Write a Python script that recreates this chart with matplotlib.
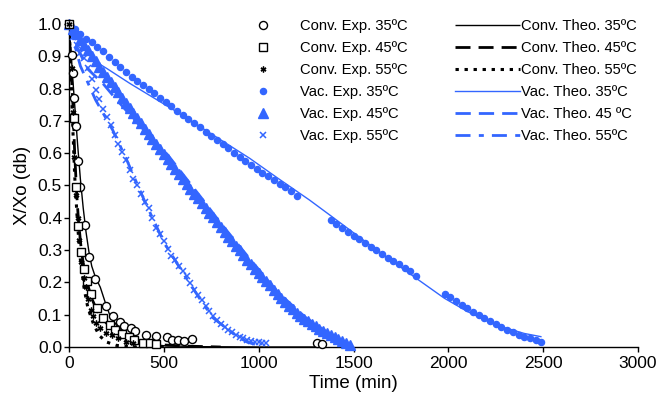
import matplotlib
matplotlib.use("Agg")
import matplotlib.pyplot as plt

plt.rcParams['font.family'] = ['Liberation Sans', 'DejaVu Sans']
plt.rcParams['lines.scale_dashes'] = False

BLUE = '#3366ff'

# ---------------- data ----------------
# Convective drying, experimental
conv35_t = [0, 15, 20, 25, 35, 50, 60, 85, 105, 135, 195, 230, 270, 290, 325, 350, 405, 460, 515, 545, 575, 605, 650, 1310, 1335]
conv35_x = [1.0, 0.904, 0.847, 0.77, 0.684, 0.577, 0.496, 0.378, 0.278, 0.21, 0.127, 0.096, 0.078, 0.066, 0.058, 0.05, 0.037, 0.035, 0.03, 0.022, 0.023, 0.02, 0.024, 0.013, 0.009]

conv45_t = [0, 25, 35, 50, 65, 80, 95, 115, 145, 180, 215, 245, 280, 315, 345, 390, 425, 460]
conv45_x = [1.0, 0.708, 0.496, 0.375, 0.293, 0.24, 0.204, 0.163, 0.122, 0.089, 0.068, 0.053, 0.04, 0.03, 0.022, 0.013, 0.011, 0.008]

conv55_t = [0, 15, 20, 25, 35, 45, 55, 65, 80, 90, 100, 115, 125, 140, 165, 195, 225, 260, 300, 340]
conv55_x = [1.0, 0.863, 0.729, 0.589, 0.47, 0.40, 0.33, 0.264, 0.213, 0.185, 0.148, 0.115, 0.095, 0.073, 0.058, 0.044, 0.037, 0.027, 0.017, 0.011]

# Convective drying, theoretical
conv35th_t = [0, 10, 20, 30, 45, 60, 75, 90, 105, 120, 140, 165, 190, 216, 250, 300, 340, 400, 500, 700, 1000, 1350]
conv35th_x = [1.0, 0.92, 0.83, 0.75, 0.63, 0.52, 0.43, 0.355, 0.295, 0.25, 0.215, 0.185, 0.14, 0.097, 0.068, 0.04, 0.022, 0.01, 0.004, 0.001, 0.0, 0.0]

conv45th_t = [0, 10, 20, 30, 40, 50, 65, 80, 100, 120, 150, 180, 220, 270, 330, 400, 480, 600, 800]
conv45th_x = [1.0, 0.87, 0.76, 0.6, 0.48, 0.39, 0.3, 0.24, 0.19, 0.15, 0.11, 0.085, 0.06, 0.04, 0.025, 0.013, 0.007, 0.003, 0.0]

conv55th_t = [0, 10, 20, 30, 45, 60, 80, 100, 130, 160, 200, 250, 350, 500]
conv55th_x = [1.0, 0.85, 0.68, 0.53, 0.38, 0.27, 0.18, 0.12, 0.07, 0.035, 0.015, 0.005, 0.0, 0.0]

# Vacuum drying, experimental
vac35_t = [0, 30, 60, 90, 120, 150, 180, 210, 240, 270, 300, 330, 360, 390, 420, 450, 480, 510, 540, 570,
           600, 630, 660, 690, 720, 750, 780, 810, 840, 870, 900, 930, 960, 990, 1020, 1050, 1080, 1110, 1140, 1170, 1200,
           1380, 1410, 1440, 1470, 1500, 1530, 1560, 1590, 1620, 1650, 1680, 1710, 1740, 1770, 1800, 1830,
           1980, 2010, 2040, 2070, 2100, 2130, 2160, 2190, 2220, 2250, 2280, 2310, 2340, 2370, 2400, 2430, 2460, 2490]
vac35_x = [1.0, 0.983, 0.968, 0.955, 0.943, 0.928, 0.915, 0.898, 0.883, 0.868, 0.852, 0.837, 0.824, 0.811, 0.798, 0.785, 0.772, 0.759, 0.745, 0.732,
           0.719, 0.706, 0.693, 0.68, 0.667, 0.654, 0.641, 0.628, 0.615, 0.602, 0.589, 0.576, 0.563, 0.55, 0.54, 0.53, 0.518, 0.506, 0.494, 0.482, 0.468,
           0.393, 0.381, 0.367, 0.357, 0.344, 0.334, 0.321, 0.31, 0.30, 0.288, 0.277, 0.267, 0.257, 0.246, 0.236, 0.221,
           0.164, 0.155, 0.142, 0.131, 0.12, 0.107, 0.098, 0.089, 0.079, 0.071, 0.063, 0.054, 0.045, 0.038, 0.032, 0.027, 0.022, 0.017]

vac45_t = [0, 20, 40, 60, 80, 100, 120, 140, 160, 180, 200, 220, 240, 260, 280, 300, 320, 340, 360, 380,
           400, 420, 440, 460, 480, 500, 520, 540, 560, 580, 600, 620, 640, 660, 680, 700, 720, 740, 760, 780,
           800, 820, 840, 860, 880, 900, 920, 940, 960, 980, 1000, 1020, 1040, 1060, 1080, 1100, 1120, 1140, 1160, 1180,
           1200, 1220, 1240, 1260, 1280, 1300, 1320, 1340, 1360, 1380, 1400, 1420, 1440, 1460, 1480]
vac45_x = [1.0, 0.985, 0.968, 0.952, 0.935, 0.918, 0.901, 0.884, 0.868, 0.852, 0.836, 0.82, 0.804, 0.788, 0.772, 0.756, 0.74, 0.724, 0.708, 0.692,
           0.676, 0.66, 0.644, 0.628, 0.613, 0.597, 0.582, 0.566, 0.551, 0.535, 0.519, 0.504, 0.489, 0.474, 0.46, 0.446, 0.431, 0.416, 0.401, 0.386,
           0.37, 0.355, 0.341, 0.327, 0.313, 0.299, 0.284, 0.27, 0.256, 0.243, 0.23, 0.217, 0.204, 0.191, 0.178, 0.165, 0.152, 0.14, 0.128, 0.117,
           0.106, 0.096, 0.087, 0.079, 0.071, 0.064, 0.057, 0.05, 0.043, 0.036, 0.03, 0.024, 0.018, 0.012, 0.006]

vac55_t = [0, 20, 40, 60, 80, 100, 120, 140, 160, 180, 200, 220, 240, 260, 280, 300, 320, 340, 360, 380,
           400, 420, 440, 460, 480, 500, 520, 540, 560, 580, 600, 620, 640, 660, 680, 700, 720, 740, 760, 780,
           800, 820, 840, 860, 880, 900, 920, 940, 960, 980, 1000, 1020, 1040]
vac55_x = [1.0, 0.96, 0.935, 0.91, 0.895, 0.865, 0.83, 0.795, 0.767, 0.737, 0.712, 0.688, 0.655, 0.628, 0.605, 0.58, 0.548, 0.52, 0.5, 0.475,
           0.45, 0.43, 0.4, 0.368, 0.35, 0.328, 0.302, 0.283, 0.268, 0.25, 0.236, 0.22, 0.198, 0.178, 0.162, 0.145, 0.128, 0.112, 0.095, 0.083,
           0.072, 0.061, 0.053, 0.045, 0.038, 0.032, 0.027, 0.022, 0.019, 0.016, 0.014, 0.012, 0.011]

# Vacuum drying, theoretical
vac35th_t = [0, 75, 150, 200, 321, 549, 750, 953, 1100, 1268, 1374, 1600, 1830, 1979, 2100, 2250, 2400, 2488]
vac35th_x = [1.0, 0.94, 0.88, 0.862, 0.816, 0.735, 0.66, 0.584, 0.523, 0.455, 0.409, 0.31, 0.213, 0.151, 0.11, 0.068, 0.042, 0.032]

vac45th_t = [0, 40, 100, 180, 230, 350, 520, 700, 800, 950, 1100, 1250, 1400, 1480]
vac45th_x = [1.0, 0.93, 0.86, 0.815, 0.78, 0.70, 0.595, 0.46, 0.383, 0.275, 0.17, 0.09, 0.03, 0.005]

vac55th_t = [0, 60, 140, 230, 300, 400, 500, 600, 700, 760, 880, 940, 1000]
vac55th_x = [1.0, 0.87, 0.765, 0.672, 0.585, 0.45, 0.325, 0.23, 0.14, 0.09, 0.035, 0.015, 0.005]

exp_labels = ['Conv. Exp. 35ºC', 'Conv. Exp. 45ºC', 'Conv. Exp. 55ºC',
              'Vac. Exp. 35ºC', 'Vac. Exp. 45ºC', 'Vac. Exp. 55ºC']
theo_labels = ['Conv. Theo. 35ºC', 'Conv. Theo. 45ºC', 'Conv. Theo. 55ºC',
               'Vac. Theo. 35ºC', 'Vac. Theo. 45 ºC', 'Vac. Theo. 55ºC']

x_ticks = [0, 500, 1000, 1500, 2000, 2500, 3000]
y_ticks = [0.0, 0.1, 0.2, 0.3, 0.4, 0.5, 0.6, 0.7, 0.8, 0.9, 1.0]

# ---------------- figure ----------------
fig = plt.figure(figsize=(6.62, 3.98), dpi=100)
ax = fig.add_axes([69/662, 1-347/398, (638-69)/662, (347-24)/398])

# theory lines
th = []
th += ax.plot(conv35th_t, conv35th_x, color='black', lw=1.0, solid_capstyle='butt')
th += ax.plot(conv45th_t, conv45th_x, color='black', lw=2.0, dashes=(10.8, 5.8), dash_capstyle='butt')
th += ax.plot(conv55th_t, conv55th_x, color='black', lw=2.2, dashes=(2.4, 4.1), dash_capstyle='butt')
th += ax.plot(vac35th_t, vac35th_x, color=BLUE, lw=1.0)
th += ax.plot(vac45th_t, vac45th_x, color=BLUE, lw=2.0, dashes=(11.0, 5.8), dash_capstyle='butt')
th += ax.plot(vac55th_t, vac55th_x, color=BLUE, lw=2.0, dashes=(10.8, 6.0, 3.6, 5.8), dash_capstyle='butt')

# experimental markers
ex = []
ex += ax.plot(conv35_t, conv35_x, ls='none', marker='o', ms=5.8, mfc='white', mec='black', mew=1.0, zorder=5, clip_on=False)
ex += ax.plot(conv45_t, conv45_x, ls='none', marker='s', ms=5.3, mfc='white', mec='black', mew=1.0, zorder=5, clip_on=False)
ex += ax.plot(conv55_t, conv55_x, ls='none', marker=(6, 2, 0), ms=4.2, color='black', mew=1.0, zorder=5, clip_on=False)
ex += ax.plot(vac35_t, vac35_x, ls='none', marker='o', ms=4.4, color=BLUE, mec=BLUE, zorder=4, clip_on=False)
ex += ax.plot(vac45_t, vac45_x, ls='none', marker='^', ms=7.2, color=BLUE, mec=BLUE, zorder=4, clip_on=False)
ex += ax.plot(vac55_t, vac55_x, ls='none', marker='x', ms=4.0, color=BLUE, mew=1.1, zorder=4, clip_on=False)

ax.set_xlim(0, 3000)
ax.set_ylim(0, 1.0)
ax.set_xticks(x_ticks)
ax.set_yticks(y_ticks)
ax.set_yticklabels([f'{v:.1f}' for v in y_ticks])
for s in ['top', 'right']:
    ax.spines[s].set_visible(False)
for s in ['left', 'bottom']:
    ax.spines[s].set_linewidth(1.0)
ax.tick_params(axis='both', direction='out', length=3.5, width=1.0, labelsize=12.5)
ax.tick_params(axis='y', pad=1.5)
ax.tick_params(axis='x', pad=3)
ax.set_xlabel('Time (min)', fontsize=13.5, labelpad=3)
ax.set_ylabel('X/Xo (db)', fontsize=13.5, labelpad=5)

leg_kw = dict(loc='upper left', bbox_transform=fig.transFigure, frameon=False, fontsize=10.6,
              labelspacing=0.54, borderpad=0, borderaxespad=0)
leg1 = ax.legend(ex, exp_labels, bbox_to_anchor=(248/662, 1-19/398),
                 handlelength=2.0, handletextpad=1.5, numpoints=1, **leg_kw)
ax.add_artist(leg1)
leg2 = ax.legend(th, theo_labels, bbox_to_anchor=(455/662, 1-19/398),
                 handlelength=4.4, handletextpad=0.1, **leg_kw)

fig.savefig('out.png', dpi=100)
